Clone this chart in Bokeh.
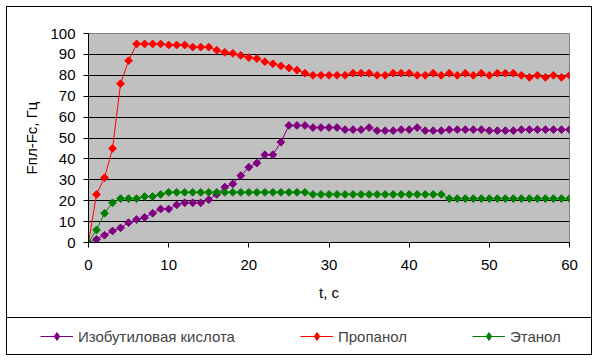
from bokeh.plotting import figure
from bokeh.layouts import column
from bokeh.models import Range1d, FixedTicker, Legend, LegendItem
from bokeh.embed import file_html
from bokeh.resources import INLINE

# ---- data ----
t = [0, 1, 2, 3, 4, 5, 6, 7, 8, 9, 10, 11, 12, 13, 14, 15, 16, 17, 18, 19, 20,
     21, 22, 23, 24, 25, 26, 27, 28, 29, 30, 31, 32, 33, 34, 35, 36, 37, 38, 39, 40,
     41, 42, 43, 44, 45, 46, 47, 48, 49, 50, 51, 52, 53, 54, 55, 56, 57, 58, 59, 60]

isobutyric = [0, 1.5, 3.5, 5.5, 7, 9.5, 11, 12, 14, 16,
              16, 18, 19, 19, 19, 20.5, 23, 26.5, 28, 32,
              36, 38, 42, 42, 48, 56, 56, 56, 55, 55,
              55, 55, 54, 54, 54, 55, 53.5, 53.5, 53.5, 54,
              54, 55, 53.5, 53.5, 53.5, 54, 54, 54, 54, 54,
              53.5, 53.5, 53.5, 53.5, 54, 54, 54, 54, 54, 54,
              54]

propanol = [0, 23, 31, 45, 76, 87, 95, 95, 95, 95,
            94.5, 94.5, 94.5, 93.5, 93.5, 93.5, 92, 91, 90.5, 89.5,
            88.5, 88, 86.5, 85.5, 84.5, 83.5, 82.5, 81, 80, 80,
            80, 80, 80, 81, 81, 81, 80, 80, 81, 81,
            81, 80, 80, 81, 80, 81, 80, 81, 80, 81,
            80, 81, 81, 81, 80, 79, 80, 79, 80, 79,
            80]

ethanol = [0, 6, 14, 19, 21, 21, 21, 22, 22, 23,
           24, 24, 24, 24, 24, 24, 24, 24, 24, 24,
           24, 24, 24, 24, 24, 24, 24, 24, 23, 23,
           23, 23, 23, 23, 23, 23, 23, 23, 23, 23,
           23, 23, 23, 23, 23, 21, 21, 21, 21, 21,
           21, 21, 21, 21, 21, 21, 21, 21, 21, 21,
           21]

series_names = ["Изобутиловая кислота", "Пропанол", "Этанол"]
series_colors = ["#800080", "#FF0000", "#008000"]
x_ticks = [0, 10, 20, 30, 40, 50, 60]
y_ticks = [0, 10, 20, 30, 40, 50, 60, 70, 80, 90, 100]
grid_ticks = [10, 20, 30, 40, 50, 60, 70, 80, 90]

FONT = "Liberation Sans"
FS = "15px"

W = 598
H_MAIN = 317
H_LEG = 44

line = "linear-gradient(#000,#000)"
bg_main = ", ".join([
    f"{line} 6px 6px/586px 1px no-repeat",
    f"{line} 6px 6px/1px {H_MAIN - 6}px no-repeat",
    f"{line} 591px 6px/1px {H_MAIN - 6}px no-repeat",
    "#ffffff",
])
bg_leg = ", ".join([
    f"{line} 6px 0px/586px 1px no-repeat",
    f"{line} 6px 37px/586px 1px no-repeat",
    f"{line} 6px 0px/1px 38px no-repeat",
    f"{line} 591px 0px/1px 38px no-repeat",
    "#ffffff",
])

p = figure(width=W, height=H_MAIN, output_backend="svg", toolbar_location=None,
           x_range=Range1d(0, 60), y_range=Range1d(0, 100),
           min_border_left=88, min_border_right=29, min_border_top=33,
           min_border_bottom=H_MAIN - 33 - 209, styles={"background": bg_main})
p.frame_align = False

p.background_fill_color = "#C0C0C0"
p.border_fill_color = None
p.outline_line_color = "#808080"
p.outline_line_width = 1

p.xgrid.visible = False
p.ygrid.ticker = FixedTicker(ticks=grid_ticks)
p.ygrid.grid_line_color = "black"
p.ygrid.grid_line_width = 1

for ax in (p.xaxis[0], p.yaxis[0]):
    ax.axis_line_color = "black"
    ax.major_tick_line_color = "black"
    ax.minor_tick_line_color = None
    ax.major_tick_in = 0
    ax.major_tick_out = 5
    ax.major_label_text_font = FONT
    ax.major_label_text_font_size = FS
    ax.major_label_text_color = "black"
    ax.axis_label_text_font = FONT
    ax.axis_label_text_font_size = FS
    ax.axis_label_text_font_style = "normal"
    ax.axis_label_text_color = "black"

p.xaxis.ticker = FixedTicker(ticks=x_ticks)
p.yaxis.ticker = FixedTicker(ticks=y_ticks)
p.xaxis.axis_label = "t, c"
p.yaxis.axis_label = "Fпл-Fc, Гц"
p.xaxis.major_label_standoff = 12
p.xaxis.axis_label_standoff = 11
p.yaxis.major_label_standoff = 8
p.yaxis.axis_label_standoff = 7

series = [isobutyric, propanol, ethanol]
for name, col, ys in zip(series_names, series_colors, series):
    p.line(t, ys, line_color=col, line_width=1)
    p.scatter(t, ys, marker="square", angle=0.785398, size=5.5,
              fill_color=col, line_color=col)

# ---- legend strip (its own figure; its data sit outside its visible range) ----
pl = figure(width=W, height=H_LEG, output_backend="svg", toolbar_location=None,
            x_range=Range1d(-1000, -999), y_range=Range1d(-1000, -999),
            x_axis_location=None, y_axis_location=None,
            min_border_left=0, min_border_right=0, min_border_top=0,
            min_border_bottom=0, styles={"background": bg_leg})
pl.frame_align = False
pl.grid.visible = False
pl.background_fill_color = None
pl.border_fill_color = None
pl.outline_line_color = None

items = []
for name, col, ys in zip(series_names, series_colors, series):
    ln = pl.line(t, ys, line_color=col, line_width=1)
    sc = pl.scatter(t, ys, marker="diamond", size=9,
                    fill_color=col, line_color=col)
    items.append(LegendItem(label=name, renderers=[ln, sc]))

legend = Legend(items=items, orientation="horizontal", location=(40, 15),
                spacing=65, glyph_width=33, glyph_height=20, label_standoff=5,
                padding=0, margin=0, label_text_font=FONT,
                label_text_font_size=FS, label_text_baseline="middle",
                background_fill_alpha=0, border_line_color=None)
pl.add_layout(legend, "center")

layout = column(p, pl, spacing=0)
open("out.html", "w").write(file_html(layout, INLINE))
